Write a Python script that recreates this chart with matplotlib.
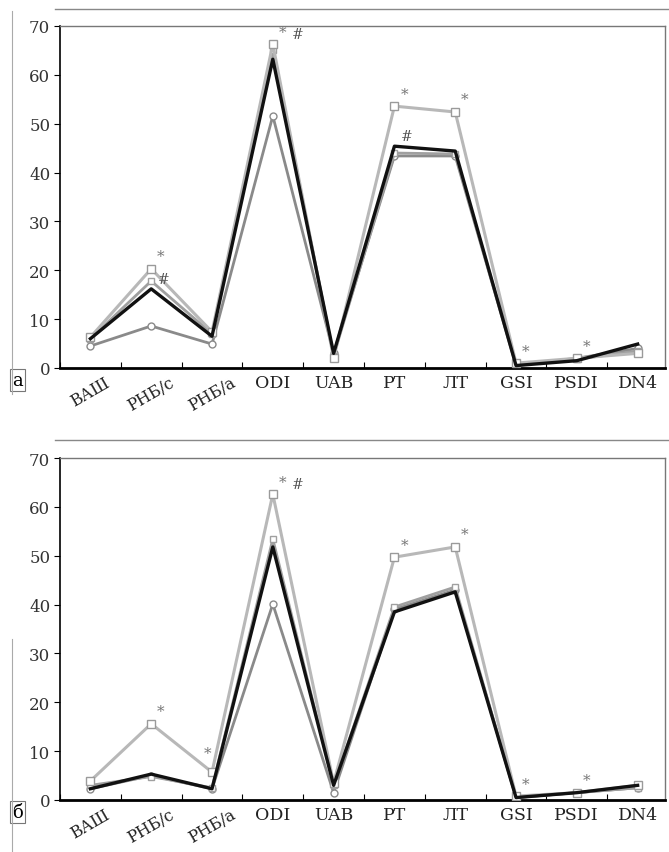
import matplotlib
matplotlib.use("Agg")
import matplotlib.pyplot as plt
from matplotlib.lines import Line2D

categories = ['ВАШ', 'РНБ/с', 'РНБ/а', 'ODI', 'UAB', 'PT', 'ЛТ', 'GSI', 'PSDI', 'DN4']
y_ticks = [0, 10, 20, 30, 40, 50, 60, 70]

# panel а
a_s1 = [6.3, 20.3, 7.4, 66.3, 2.0, 53.6, 52.4, 1.0, 2.0, 3.0]
a_s2 = [6.0, 17.8, 7.0, 65.0, 2.5, 44.0, 43.8, 0.8, 1.8, 3.5]
a_s3 = [6.0, 16.2, 6.5, 63.2, 3.0, 45.4, 44.4, 0.5, 1.5, 4.9]
a_s4 = [4.5, 8.6, 4.9, 51.6, 3.0, 43.4, 43.4, 0.5, 2.0, 4.0]
a_star = [1, 3, 5, 6, 7, 8]
a_hash = [1, 3, 5]

# panel б
b_s1 = [3.9, 15.6, 5.7, 62.6, 3.5, 49.7, 51.8, 0.8, 1.5, 3.0]
b_s2 = [3.0, 4.8, 2.5, 53.4, 3.0, 39.5, 43.6, 0.5, 1.5, 2.5]
b_s3 = [2.3, 5.3, 2.3, 51.8, 3.0, 38.5, 42.6, 0.5, 1.5, 3.0]
b_s4 = [2.3, 5.0, 2.3, 40.1, 1.5, 39.0, 43.0, 0.5, 1.5, 2.5]
b_star = [1, 2, 3, 5, 6, 7, 8]
b_hash = [3]

plt.rcParams['font.family'] = ['DejaVu Serif']

fig = plt.figure(figsize=(6.69, 8.53), dpi=100)
W, H = 669, 853

def px_axes(l, t, r, b):
    return fig.add_axes([l / W, 1 - b / H, (r - l) / W, (b - t) / H])

ax_a = px_axes(60, 27, 665, 369)
ax_b = px_axes(60, 459, 665, 801)

def draw(ax, s1, s2, s3, s4, stars, hashes, label):
    x = list(range(len(categories)))
    ax.plot(x, s4, color='#8a8a8a', lw=2.0, marker='o', ms=5, mfc='white', mec='#8a8a8a', zorder=2)
    ax.plot(x, s2, color='#a0a0a0', lw=2.0, marker='s', ms=5, mfc='white', mec='#a0a0a0', zorder=2)
    ax.plot(x, s1, color='#b8b8b8', lw=2.2, marker='s', ms=6, mfc='white', mec='#9a9a9a', zorder=3)
    ax.plot(x, s3, color='#111111', lw=2.4, zorder=4)
    for i in stars:
        off = (-3, 9) if i == 2 else (7, 4)
        ax.annotate('*', (i, s1[i]), xytext=off, textcoords='offset points',
                    fontsize=11, color='#777777', ha='center', va='bottom', zorder=5)
    for i in hashes:
        yv = s3[i] if i != 3 else s1[i]
        dx = 18 if i == 3 else 9
        ax.annotate('#', (i, yv), xytext=(dx, 2), textcoords='offset points',
                    fontsize=10, color='#555555', ha='center', va='bottom', zorder=5)
    ax.set_xlim(-0.5, 9.45)
    ax.set_ylim(0, 70)
    ax.set_yticks(y_ticks)
    ax.set_yticklabels([str(v) for v in y_ticks], fontsize=12, color='#333333')
    ax.set_xticks(x)
    ax.set_xticklabels(categories, fontsize=12.5, color='#222222')
    ax.tick_params(axis='x', length=0, pad=4)
    ax.set_xticks([i + 0.5 for i in range(-1, 9)], minor=True)
    ax.tick_params(axis='x', which='minor', length=4, direction='in', width=0.8)
    ax.tick_params(axis='y', length=4, direction='out', width=0.8, pad=3)
    for lab in ax.get_xticklabels()[:3]:
        lab.set_rotation(30)
        lab.set_ha('center')
        lab.set_fontsize(11.5)
    for side in ['top', 'right']:
        ax.spines[side].set_color('#777777')
        ax.spines[side].set_linewidth(1.0)
    ax.spines['bottom'].set_linewidth(2.0)
    ax.spines['left'].set_linewidth(1.2)
    ax.text(-0.07, -0.035, label, transform=ax.transAxes, fontsize=13, ha='center', va='center',
            bbox=dict(boxstyle='square,pad=0.12', fc='white', ec='#777777', lw=0.8))

draw(ax_a, a_s1, a_s2, a_s3, a_s4, a_star, a_hash, 'а')
draw(ax_b, b_s1, b_s2, b_s3, b_s4, b_star, b_hash, 'б')

# outer frame lines of the scanned panels
for yy in [10, 441]:
    fig.add_artist(Line2D([55 / W, 1.0], [1 - yy / H, 1 - yy / H], color='#888888', lw=1.0))
fig.add_artist(Line2D([12 / W, 12 / W], [1 - 12 / H, 1 - 395 / H], color='#aaaaaa', lw=0.8))
fig.add_artist(Line2D([12 / W, 12 / W], [1 - 640 / H, 1 - 853 / H], color='#aaaaaa', lw=0.8))

fig.savefig('out.png', dpi=100, facecolor='white')
